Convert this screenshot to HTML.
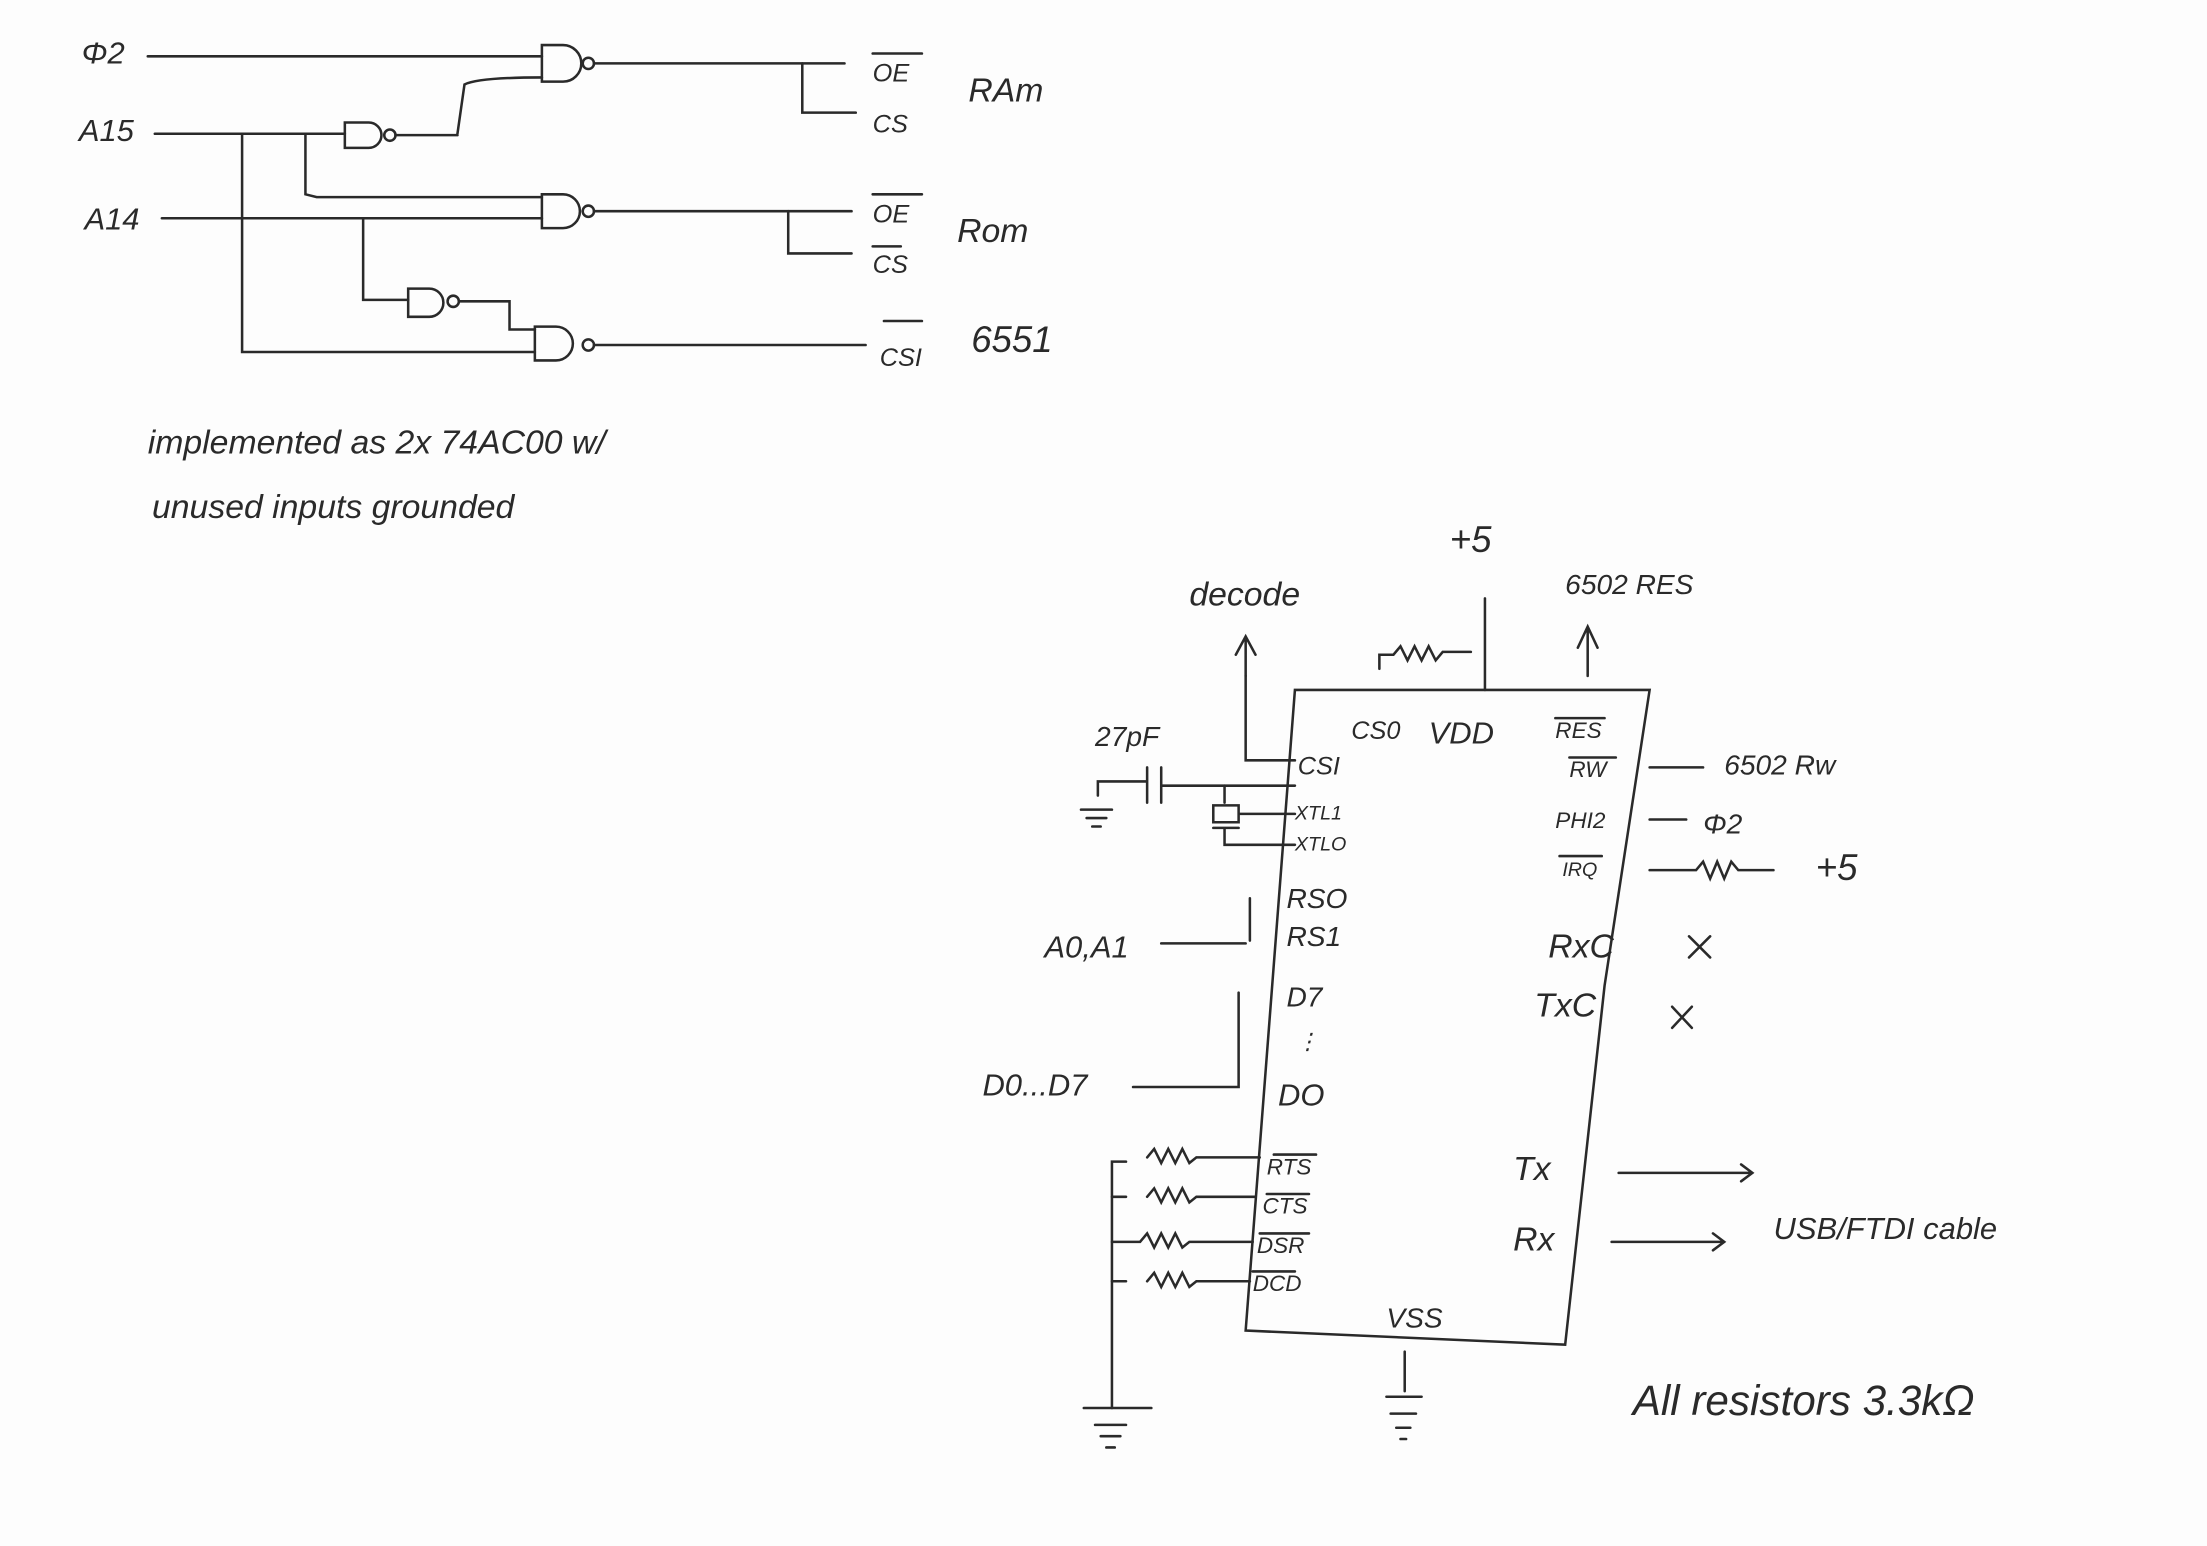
<!DOCTYPE html>
<html><head><meta charset="utf-8"><style>
html,body{margin:0;padding:0;background:#fff;}
svg{display:block;}
text{font-family:"Liberation Sans",sans-serif;font-style:italic;fill:#2a2a2a;}
</style></head><body>
<svg width="2207" height="1546" viewBox="0 0 1568 1098" preserveAspectRatio="none" xmlns="http://www.w3.org/2000/svg">
<rect width="1568" height="1098" fill="#fdfdfd"/>
<g fill="none" stroke="#2a2a2a" stroke-width="1.8" stroke-linecap="round">
<path d="M105 40 H385"/>
<path d="M385 32 H400 A13 13 0 0 1 400 58 H385 Z"/><circle cx="418" cy="45" r="4"/>
<path d="M422 45 H600"/>
<path d="M325 95 L330 60 Q340 55 385 55"/>
<path d="M110 95 H245"/>
<path d="M245 87 H262 A9 9 0 0 1 262 105 H245 Z"/><circle cx="277" cy="96" r="4"/>
<path d="M281 96 H325"/>
<path d="M172 95 V250 H380"/>
<path d="M217 95 V138 L225 140 H385"/>
<path d="M115 155 H385"/>
<path d="M385 138 H400 A12 12 0 0 1 400 162 H385 Z"/><circle cx="418" cy="150" r="4"/>
<path d="M422 150 H605"/>
<path d="M258 155 V213 H290"/>
<path d="M290 205 H305 A10 10 0 0 1 305 225 H290 Z"/><circle cx="322" cy="214" r="4"/>
<path d="M326 214 H362 V234 H380"/>
<path d="M380 232 H395 A12 12 0 0 1 395 256 H380 Z"/><circle cx="418" cy="245" r="4"/>
<path d="M422 245 H615"/>
<path d="M570 45 V80 H608"/>
<path d="M560 150 V180 H605"/>
<path d="M620 38 H655 M620 138 H655 M620 175 H640 M628 228 H655"/>
<path d="M920 490 H1172 L1140 700 L1112 955 L885 945 Z"/>
<path d="M1055 425 V490"/>
<path d="M980 475 V465 H990 l5 -6 l5 10 l5 -10 l5 10 l5 -10 l5 10 l5 -6 H1045"/>
<path d="M885 480 V455 M878 465 L885 452 L892 465"/>
<path d="M885 480 V540 H920"/>
<path d="M1128 480 V448 M1121 460 L1128 445 L1135 460"/>
<path d="M1172 545 H1210 M1172 582 H1198"/>
<path d="M1172 618 H1205 l5 -6 l5 12 l5 -12 l5 12 l5 -12 l5 6 H1260"/>
<path d="M1200 665 L1215 680 M1215 665 L1200 680 M1188 715 L1202 730 M1202 715 L1188 730"/>
<path d="M1150 833 H1245 M1237 827 L1245 833 L1237 839"/>
<path d="M1145 882 H1225 M1217 876 L1225 882 L1217 888"/>
<path d="M780 565 V555 H815 M815 545 V570 M825 545 V570 M825 558 H920"/>
<path d="M768 575 H790 M772 581 H786 M776 587 H782"/>
<path d="M870 558 V570 M862 572 H880 V584 H862 Z M862 588 H880 M870 588 V600 H920 M880 578 H920"/>
<path d="M825 670 H885 M888 638 V668"/>
<path d="M805 772 H880 V705"/>
<path d="M790 1000 V825 H800"/>
<path d="M815 822 l5 -6 l5 10 l5 -10 l5 10 l5 -10 l5 10 l5 -4 H895"/>
<path d="M790 850 H800 M815 850 l5 -6 l5 10 l5 -10 l5 10 l5 -10 l5 10 l5 -4 H892"/>
<path d="M790 882 H810 l5 -6 l5 10 l5 -10 l5 10 l5 -10 l5 10 l5 -4 H890"/>
<path d="M790 910 H800 M815 910 l5 -6 l5 10 l5 -10 l5 10 l5 -10 l5 10 l5 -4 H888"/>
<path d="M770 1000 H818 M778 1012 H800 M782 1020 H796 M786 1028 H792"/>
<path d="M998 960 V988 M985 992 H1010 M988 1004 H1006 M992 1014 H1002 M995 1022 H999"/>
<path d="M905 820 H935 M900 848 H930 M895 876 H930 M890 903 H920 M1105 510 H1140 M1115 538 H1148 M1108 608 H1138"/>
</g>
<g font-size="22">
<text x="58" y="45">Φ2</text>
<text x="56" y="100">A15</text>
<text x="60" y="163">A14</text>
<text x="620" y="58" font-size="18">OE</text>
<text x="620" y="94" font-size="18">CS</text>
<text x="688" y="72" font-size="24">RAm</text>
<text x="620" y="158" font-size="18">OE</text>
<text x="620" y="194" font-size="18">CS</text>
<text x="680" y="172" font-size="24">Rom</text>
<text x="625" y="260" font-size="18">CSI</text>
<text x="690" y="250" font-size="26">6551</text>
<text x="105" y="322" font-size="24">implemented  as  2x  74AC00  w/</text>
<text x="108" y="368" font-size="24">unused  inputs  grounded</text>
<text x="1030" y="392" font-size="26">+5</text>
<text x="1112" y="422" font-size="20">6502 RES</text>
<text x="845" y="430" font-size="24">decode</text>
<text x="778" y="530" font-size="20">27pF</text>
<text x="960" y="525" font-size="18">CS0</text>
<text x="1015" y="528" font-size="22">VDD</text>
<text x="1105" y="524" font-size="16">RES</text>
<text x="1115" y="552" font-size="16">RW</text>
<text x="1105" y="588" font-size="16">PHI2</text>
<text x="1110" y="622" font-size="14">IRQ</text>
<text x="922" y="550" font-size="18">CSI</text>
<text x="920" y="582" font-size="14">XTL1</text>
<text x="920" y="604" font-size="14">XTLO</text>
<text x="914" y="645" font-size="20">RSO</text>
<text x="914" y="672" font-size="20">RS1</text>
<text x="914" y="715" font-size="20">D7</text>
<text x="921" y="745" font-size="16">⋮</text>
<text x="908" y="785" font-size="22">DO</text>
<text x="1100" y="680" font-size="24">RxC</text>
<text x="1090" y="722" font-size="24">TxC</text>
<text x="1075" y="838" font-size="24">Tx</text>
<text x="1075" y="888" font-size="24">Rx</text>
<text x="900" y="834" font-size="16">RTS</text>
<text x="897" y="862" font-size="16">CTS</text>
<text x="893" y="890" font-size="16">DSR</text>
<text x="890" y="917" font-size="16">DCD</text>
<text x="985" y="943" font-size="20">VSS</text>
<text x="742" y="680" font-size="22">A0,A1</text>
<text x="698" y="778" font-size="22">D0...D7</text>
<text x="1225" y="550" font-size="20">6502 Rw</text>
<text x="1210" y="592" font-size="20">Φ2</text>
<text x="1290" y="625" font-size="26">+5</text>
<text x="1260" y="880" font-size="22">USB/FTDI cable</text>
<text x="1160" y="1005" font-size="30">All resistors  3.3kΩ</text>
</g>
</svg>
</body></html>
